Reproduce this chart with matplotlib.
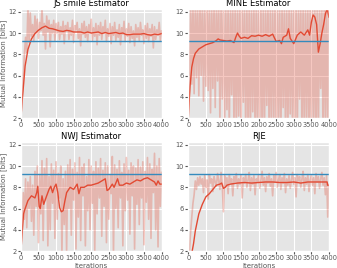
import numpy as np
import matplotlib
matplotlib.use("Agg")
import matplotlib.pyplot as plt

plt.style.use("ggplot")

true_mi = 9.29
titles = ["JS smile Estimator", "MINE Estimator", "NWJ Estimator", "RJE"]

# raw (noisy) estimates, evenly spaced over 0..4000 iterations
js_raw = [2.0, 3.6, 5.8, 8.0, 9.6, 8.2, 12.6, 9.1, 11.9, 9.7,
          10.8, 9.2, 11.6, 10.0, 11.3, 9.5, 11.0, 10.2, 12.4, 9.8,
          10.9, 8.5, 11.6, 10.1, 11.2, 8.7, 10.8, 10.0, 11.2, 9.3,
          10.9, 10.0, 11.0, 9.4, 10.6, 9.9, 11.1, 9.0, 10.7, 10.2,
          11.0, 9.4, 10.5, 9.8, 11.2, 9.1, 10.7, 10.3, 11.0, 9.5,
          10.4, 8.8, 10.9, 9.9, 11.1, 9.6, 10.6, 9.2, 10.8, 10.0,
          11.3, 9.3, 10.5, 9.7, 10.9, 8.9, 10.7, 9.8, 11.0, 9.4,
          10.6, 10.0, 11.2, 9.2, 10.4, 9.7, 10.9, 9.0, 10.6, 9.8,
          11.0, 9.3, 10.3, 9.6, 10.8, 8.9, 10.5, 9.9, 11.1, 9.2,
          10.4, 9.7, 10.9, 9.1, 10.6, 9.5, 10.2, 8.8, 10.8, 9.6,
          10.5, 9.3, 11.0, 9.8, 10.3, 9.0, 10.7, 9.5, 10.9, 9.2,
          10.4, 9.7, 10.8, 8.6, 10.6, 9.4, 10.3, 9.8, 11.0, 9.3,
          10.2]
mine_raw = [2.0, 4.5, 13.0, 5.2, 13.0, 4.3, 13.0, 5.8, 13.0, 4.1,
            13.0, 6.0, 13.0, 3.6, 13.0, 5.0, 13.0, 4.6, 13.0, 2.5,
            13.0, 4.8, 13.0, 3.0, 13.0, 5.5, 13.0, 1.5, 13.0, 3.8,
            13.0, 1.0, 13.0, 2.8, 13.0, 0.5, 13.0, 4.2, 13.0, 1.0,
            13.0, 0.5, 13.0, 2.2, 13.0, 0.0, 13.0, 3.5, 13.0, 0.5,
            13.0, 1.0, 13.0, 0.0, 13.0, 2.6, 13.0, 0.5, 13.0, 0.0,
            13.0, 1.5, 13.0, 0.0, 13.0, 0.5, 13.0, 3.2, 13.0, 0.0,
            13.0, 0.5, 13.0, 2.0, 13.0, 0.0, 13.0, 1.0, 13.0, 0.0,
            13.0, 3.0, 13.0, 0.0, 13.0, 0.5, 13.0, 2.4, 13.0, 0.0,
            13.0, 1.0, 13.0, 0.0, 13.0, 3.8, 13.0, 0.5, 13.0, 0.0,
            13.0, 2.0, 13.0, 0.0, 13.0, 0.5, 13.0, 1.0, 13.0, 0.0,
            13.0, 0.5, 13.0, 4.8, 13.0, 0.0, 13.0, 1.5, 13.0, 0.0,
            13.0]
nwj_raw = [2.0, 4.5, 7.5, 5.0, 8.8, 4.2, 8.5, 6.0, 9.0, 4.8,
           8.2, 3.5, 9.5, 6.2, 10.0, 2.8, 9.2, 5.5, 10.5, 3.0,
           9.8, 6.8, 10.7, 2.5, 9.0, 4.0, 10.2, 6.5, 9.6, 3.2,
           10.4, 5.0, 9.3, 7.0, 10.0, 1.8, 8.8, 4.5, 9.5, 2.0,
           10.1, 6.0, 10.6, 3.5, 9.7, 6.8, 10.3, 2.2, 9.4, 5.2,
           10.8, 3.0, 9.9, 7.2, 10.2, 2.5, 9.0, 5.8, 10.6, 4.0,
           10.0, 6.5, 9.5, 2.0, 10.4, 5.5, 9.8, 7.0, 10.7, 3.4,
           9.6, 6.2, 10.3, 2.8, 10.0, 5.0, 9.2, 7.4, 10.9, 1.8,
           10.1, 6.0, 9.7, 4.2, 10.5, 7.0, 9.4, 2.5, 10.2, 5.8,
           10.8, 6.8, 9.6, 3.6, 10.3, 7.2, 10.0, 2.2, 9.8, 6.4,
           10.6, 4.5, 9.9, 7.0, 10.4, 2.6, 9.5, 6.6, 10.8, 5.0,
           10.2, 3.2, 9.7, 7.5, 11.2, 4.0, 10.0, 2.4, 10.7, 6.2,
           9.4]
rje_raw = [1.0, 2.0, 3.8, 5.2, 6.5, 7.3, 8.6, 7.8, 8.9, 8.2,
           9.0, 8.3, 8.8, 7.5, 9.1, 8.0, 8.7, 6.9, 9.2, 8.4,
           8.8, 7.6, 9.0, 8.5, 8.1, 9.3, 8.6, 7.8, 9.4, 8.2,
           5.7, 9.1, 8.0, 8.9, 7.4, 9.2, 8.4, 8.8, 7.2, 9.0,
           8.5, 9.3, 7.9, 8.8, 8.3, 9.1, 7.0, 8.9, 8.4, 9.2,
           8.0, 8.7, 9.4, 7.7, 8.9, 8.3, 9.1, 7.3, 8.8, 8.5,
           9.2, 7.9, 8.7, 9.5, 8.2, 8.9, 7.6, 9.0, 8.4, 9.3,
           8.1, 8.8, 7.2, 9.1, 8.5, 9.4, 8.0, 8.7, 9.2, 7.8,
           8.9, 8.4, 9.3, 7.5, 8.8, 8.2, 9.1, 7.9, 8.7, 9.4,
           8.3, 8.9, 7.1, 9.2, 8.6, 9.0, 8.0, 8.8, 9.5, 7.7,
           8.9, 8.3, 9.2, 7.6, 8.7, 9.1, 8.2, 8.9, 7.4, 9.3,
           8.5, 9.0, 7.9, 8.8, 9.4, 8.2, 8.9, 7.3, 9.1, 5.2,
           8.3]

# smoothed estimates
js_sx = [0, 40, 80, 120, 200, 300, 400, 500, 600, 700, 800, 900, 1000, 1100,
         1200, 1300, 1400, 1500, 1600, 1700, 1800, 1900, 2000, 2100, 2200,
         2300, 2400, 2500, 2600, 2700, 2800, 2900, 3000, 3100, 3200, 3300,
         3400, 3500, 3600, 3700, 3800, 3900, 4000]
js_sy = [2.0, 3.8, 5.3, 6.9, 8.45, 9.45, 9.95, 10.27, 10.5, 10.65, 10.45,
         10.4, 10.3, 10.2, 10.15, 10.25, 10.2, 10.1, 10.1, 10.1, 10.0, 10.1,
         10.0, 10.05, 10.1, 9.95, 10.05, 9.95, 10.0, 10.05, 9.95, 10.0, 9.85,
         9.85, 9.9, 9.9, 9.9, 9.95, 9.85, 9.8, 9.9, 9.85, 9.95]
mine_sx = [0, 50, 100, 150, 200, 300, 400, 500, 600, 700, 800, 850, 900,
           1000, 1100, 1200, 1300, 1350, 1400, 1450, 1500, 1600, 1700, 1800,
           1900, 2000, 2100, 2200, 2300, 2400, 2500, 2600, 2650, 2700, 2800,
           2850, 2900, 3000, 3100, 3200, 3300, 3400, 3450, 3500, 3550, 3600,
           3650, 3700, 3750, 3800, 3850, 3900, 3950, 4000]
mine_sy = [2.0, 5.0, 6.8, 7.6, 8.1, 8.5, 8.7, 8.9, 9.0, 9.1, 9.3, 9.45, 9.35,
           9.3, 9.25, 9.3, 9.1, 9.6, 10.0, 9.7, 9.5, 9.6, 9.5, 9.75, 9.7,
           9.8, 9.7, 9.85, 9.7, 9.9, 9.2, 9.3, 9.0, 9.6, 9.8, 10.4, 9.5,
           9.0, 9.8, 10.1, 9.8, 10.3, 9.8, 11.0, 11.7, 11.5, 10.8, 8.2, 9.0,
           10.0, 10.8, 11.8, 12.3, 11.5]
nwj_sx = [0, 76, 100, 200, 300, 400, 450, 480, 520, 550, 600, 650, 700, 800,
          850, 900, 950, 1000, 1050, 1100, 1150, 1200, 1250, 1300, 1400,
          1500, 1600, 1650, 1700, 1800, 1900, 2000, 2100, 2200, 2300, 2400,
          2450, 2500, 2600, 2650, 2750, 2800, 2900, 3000, 3100, 3200, 3300,
          3400, 3500, 3600, 3700, 3800, 3850, 3900, 3950, 4000]
nwj_sy = [2.0, 5.5, 5.8, 6.75, 7.2, 7.0, 7.5, 8.1, 6.2, 6.0, 7.2, 6.4, 6.9,
          7.8, 8.1, 7.5, 8.0, 8.3, 7.5, 6.1, 5.7, 5.8, 6.7, 7.5, 8.0, 7.8,
          8.3, 7.4, 8.0, 8.0, 8.2, 8.2, 8.3, 8.4, 8.6, 8.8, 7.7, 7.8, 8.3,
          8.0, 8.8, 8.2, 8.2, 8.4, 8.3, 8.5, 8.7, 8.6, 8.8, 8.9, 8.7, 8.5,
          8.2, 8.6, 8.3, 8.3]
rje_sx = [0, 100, 150, 200, 300, 400, 500, 600, 700, 800, 900, 950, 1000,
          1050, 1100, 1200, 1400, 1600, 1800, 2000, 2200, 2400, 2600, 2800,
          3000, 3200, 3400, 3600, 3800, 3950, 3960, 4000]
rje_sy = [0.5, 1.8, 2.7, 3.9, 5.5, 6.4, 7.1, 7.4, 7.8, 8.2, 8.3, 8.4, 7.9,
          8.0, 8.2, 8.3, 8.4, 8.45, 8.4, 8.45, 8.5, 8.5, 8.45, 8.45, 8.5,
          8.4, 8.5, 8.5, 8.5, 8.5, 8.2, 8.2]

raws = [js_raw, mine_raw, nwj_raw, rje_raw]
smooth = [(js_sx, js_sy), (mine_sx, mine_sy), (nwj_sx, nwj_sy), (rje_sx, rje_sy)]

fig, axes = plt.subplots(2, 2, figsize=(3.37, 2.68), dpi=100)
fig.subplots_adjust(left=0.062, right=0.976, top=0.966, bottom=0.063,
                    wspace=0.19, hspace=0.22)

for i, ax in enumerate(axes.flat):
    raw = raws[i]
    it = np.linspace(0, 4000, len(raw))
    ax.plot(it, raw, color="#E24A33", alpha=0.3, lw=1.2)
    ax.plot(smooth[i][0], smooth[i][1], color="#E24A33", lw=1.0)
    ax.axhline(true_mi, color="#348ABD", lw=1.0)
    ax.set_xlim(0, 4000)
    ax.set_ylim(2, 12.25)
    ax.set_xticks(range(0, 4001, 500))
    ax.set_yticks(range(2, 13, 2))
    ax.tick_params(labelsize=4.8, length=2, pad=1, colors="#555555")
    ax.set_title(titles[i], fontsize=6, pad=2)
    if i % 2 == 0:
        ax.set_ylabel("Mutual Information [bits]", fontsize=5, labelpad=1)
    if i >= 2:
        ax.set_xlabel("Iterations", fontsize=5, labelpad=1)

plt.savefig("out.png", dpi=100)
